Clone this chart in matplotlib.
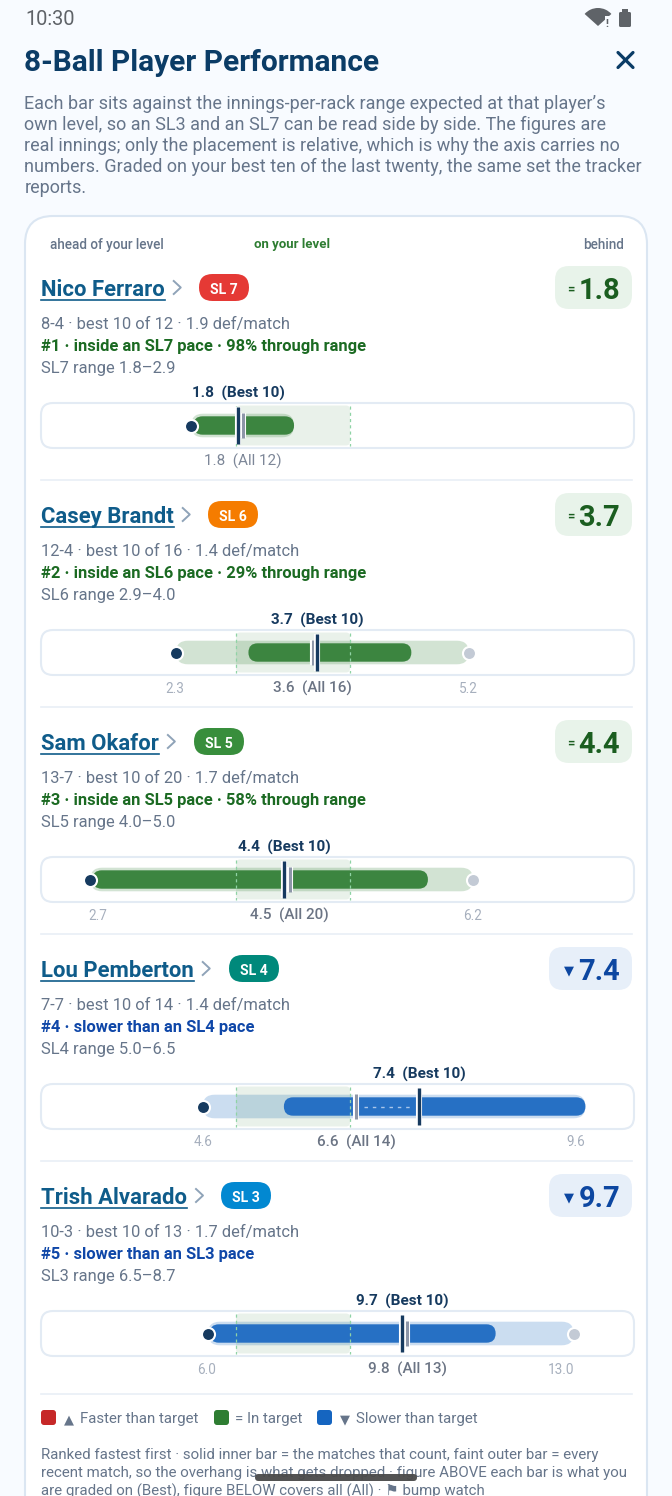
# 8-ball player performance card, redrawn at phone size
import numpy as np
import matplotlib
matplotlib.use('Agg')
import matplotlib.pyplot as plt
from matplotlib.patches import FancyBboxPatch, Wedge, Rectangle

plt.rcParams['font.family'] = ['Roboto', 'DejaVu Sans']

# Data
players = ['Nico Ferraro', 'Casey Brandt', 'Sam Okafor', 'Lou Pemberton', 'Trish Alvarado']
levels = ['SL 7', 'SL 6', 'SL 5', 'SL 4', 'SL 3']
headline = ['1.8', '3.7', '4.4', '7.4', '9.7']
status = ['in', 'in', 'in', 'slow', 'slow']
stats = ['8-4 · best 10 of 12 · 1.9 def/match',
         '12-4 · best 10 of 16 · 1.4 def/match',
         '13-7 · best 10 of 20 · 1.7 def/match',
         '7-7 · best 10 of 14 · 1.4 def/match',
         '10-3 · best 10 of 13 · 1.7 def/match']
rank_text = ['#1 · inside an SL7 pace · 98% through range',
             '#2 · inside an SL6 pace · 29% through range',
             '#3 · inside an SL5 pace · 58% through range',
             '#4 · slower than an SL4 pace',
             '#5 · slower than an SL3 pace']
range_text = ['SL7 range 1.8–2.9', 'SL6 range 2.9–4.0', 'SL5 range 4.0–5.0',
              'SL4 range 5.0–6.5', 'SL3 range 6.5–8.7']

range_lo = [1.8, 2.9, 4.0, 5.0, 6.5]
range_hi = [2.9, 4.0, 5.0, 6.5, 8.7]
# innings value at each end of the track, differs per player
axis_min = [0.06, 0.95, 2.26, 2.65, 3.02]
axis_max = [5.66, 6.87, 7.77, 10.24, 14.16]

outer_lo = [1.40, 2.3, 2.7, 4.6, 6.0]
outer_hi = [2.36, 5.2, 6.2, 9.6, 13.0]
inner_lo = [1.42, 3.02, 2.72, 5.63, 6.03]
inner_hi = [2.36, 4.62, 5.76, 9.6, 11.5]
best_vals = [1.82, 3.68, 4.425, 7.41, 9.7]
all_vals = [1.87, 3.64, 4.47, 6.58, 9.8]
best_labels = ['1.8  (Best 10)', '3.7  (Best 10)', '4.4  (Best 10)', '7.4  (Best 10)', '9.7  (Best 10)']
all_labels = ['1.8  (All 12)', '3.6  (All 16)', '4.5  (All 20)', '6.6  (All 14)', '9.8  (All 13)']
lo_labels = [None, '2.3', '2.7', '4.6', '6.0']
hi_labels = [None, '5.2', '6.2', '9.6', '13.0']
hi_dot = [False, True, True, False, True]

# Layout, page pixels
W, H = 672, 1496
STEP = 227
pill_x = [199, 208, 194, 229, 221]
pill_col = ['#e53935', '#f57c00', '#388e3c', '#00897b', '#0288d1']
chip_x = [555, 555, 555, 549, 549]
lo_shift = [0, -1, 8, 0, -1]
hi_shift = [0, 0, 0, -10, -13]
TRACK_L, TRACK_R = 41, 634
ZONE_L, ZONE_R = 236, 350

INK = '#0b3c66'
GREY = '#66758a'
GREEN = '#1b6a22'
BLUE = '#0f47a8'
pal = {'in': dict(inner='#3c8540', outer=(0.18, 0.49, 0.20, 0.21), chip='#e8f3ea', txt='#1b5e20'),
       'slow': dict(inner='#2670c4', outer=(0.08, 0.40, 0.75, 0.22), chip='#e7eff9', txt='#0d47a1')}

fig = plt.figure(figsize=(W / 100, H / 100), dpi=100, facecolor='#f8fbff')
page = fig.add_axes([0, 0, 1, 1])
page.set_xlim(0, W)
page.set_ylim(H, 0)
page.axis('off')


def rrect(ax, x0, y0, x1, y1, r, **kw):
    # rounded box in page pixels
    p = FancyBboxPatch((x0 + r, y0 + r), x1 - x0 - 2 * r, y1 - y0 - 2 * r,
                       boxstyle='round,pad=%f,rounding_size=%f' % (r, r),
                       mutation_aspect=1, **kw)
    ax.add_patch(p)
    return p


def txt(x, y, s, size, color, weight='normal', ha='left', zorder=5):
    return page.text(x, y, s, fontsize=size * 0.72, color=color, fontweight=weight,
                     ha=ha, va='center_baseline', zorder=zorder)


# status bar and header
txt(25, 17.5, '10:30', 20, '#5f6368')
page.add_patch(Wedge((598, 26), 18, 222, 318, fc='#5f6368', ec='none'))
page.add_patch(Rectangle((605, 16), 5, 13, fc='#f8fbff', ec='none', zorder=2))
txt(607, 23, '!', 11, '#5f6368', weight='bold', ha='center', zorder=3)
rrect(page, 619, 12, 631, 27, 1.5, fc='#5f6368', ec='none')
page.add_patch(Rectangle((622, 9), 6, 4, fc='#5f6368', ec='none'))

txt(24.5, 60, '8-Ball Player Performance', 29.9, '#0b3c66', weight='bold')
page.plot([618, 633], [52.5, 67.5], color=INK, lw=2.3, solid_capstyle='round')
page.plot([618, 633], [67.5, 52.5], color=INK, lw=2.3, solid_capstyle='round')

intro = ["Each bar sits against the innings-per-rack range expected at that player’s",
         "own level, so an SL3 and an SL7 can be read side by side. The figures are",
         "real innings; only the placement is relative, which is why the axis carries no",
         "numbers. Graded on your best ten of the last twenty, the same set the tracker",
         "reports."]
for i, line in enumerate(intro):
    txt(24.5, 101.5 + i * 21, line, 18, GREY)

# card
rrect(page, 25, 216, 647, 1560, 28, fc='white', ec='#dbe6f2', lw=1.5, zorder=1)
txt(50, 243, 'ahead of your level', 13.5, GREY, weight='medium', zorder=5)
txt(292, 243, 'on your level', 13.2, '#2e7d32', weight='bold', ha='center')
txt(624, 243, 'behind', 13.5, GREY, weight='medium', ha='right')

for i, name in enumerate(players):
    dy = i * STEP
    st = status[i]
    c = pal[st]

    # name row
    t = txt(41, 287.5 + dy, name, 22.2, '#0f5c8a', weight='bold')
    fig.canvas.draw_idle()
    ext = t.get_window_extent(fig.canvas.get_renderer())
    page.plot([41, ext.x1], [299.5 + dy, 299.5 + dy], color='#0f5c8a', lw=1.2, zorder=5)
    page.plot([ext.x1 + 9, ext.x1 + 16, ext.x1 + 9], [281 + dy, 287.5 + dy, 294 + dy],
              color='#8fa3b8', lw=1.4, zorder=5)
    rrect(page, pill_x[i], 274 + dy, pill_x[i] + 50, 301 + dy, 13.5, fc=pill_col[i], ec='none', zorder=4)
    txt(pill_x[i] + 25, 288 + dy, levels[i], 14, 'white', weight='bold', ha='center')

    # headline chip
    rrect(page, chip_x[i], 266 + dy, 632, 309 + dy, 14, fc=c['chip'], ec='none', zorder=4)
    txt(620, 288 + dy, headline[i], 29, c['txt'], weight='bold', ha='right')
    txt(chip_x[i] + 16 + (4 if st == 'slow' else 0), 288 + dy, '=' if st == 'in' else '▼',
        13, c['txt'], weight='bold', ha='center')

    # text block
    txt(41, 323 + dy, stats[i], 16.5, GREY)
    txt(41, 345 + dy, rank_text[i], 16.5, GREEN if st == 'in' else BLUE, weight='bold')
    txt(41, 367 + dy, range_text[i], 16.5, GREY)

    # track frame
    top, bot = 403 + dy, 448 + dy
    rrect(page, TRACK_L, top, TRACK_R, bot, 12, fc='white', ec='#e3ebf4', lw=1.5, zorder=2)

    # each track gets its own axes, zone fixed in place, scale bent around it
    lo, hi = range_lo[i], range_hi[i]
    src = [axis_min[i], lo, hi, axis_max[i]]
    dst = [0, (ZONE_L - TRACK_L) / (TRACK_R - TRACK_L), (ZONE_R - TRACK_L) / (TRACK_R - TRACK_L), 1]
    ax = fig.add_axes([TRACK_L / W, 1 - bot / H, (TRACK_R - TRACK_L) / W, (bot - top) / H])
    ax.set_xscale('function', functions=(lambda v, s=src, d=dst: np.interp(v, s, d),
                                         lambda v, s=src, d=dst: np.interp(v, d, s)))
    ax.set_xlim(axis_min[i], axis_max[i])
    ax.set_ylim(22.5, -22.5)
    ax.patch.set_alpha(0)
    ax.axis('off')

    def px(v):
        return page.transData.inverted().transform(ax.transData.transform((v, 0)))[0]

    mid = (top + bot) / 2

    def bar(v0, v1, half, **kw):
        x0, x1 = px(v0), px(v1)
        r = min(half, (x1 - x0) / 2)
        rrect(ax, x0, mid - half, x1, mid + half, r, transform=page.transData, clip_on=False, **kw)

    bar(outer_lo[i], outer_hi[i], 11.8, fc=c['outer'], ec='none', zorder=1)
    # target zone, faint fill with dashed edges
    z0, z1 = px(lo), px(hi)
    rrect(ax, z0, mid - 20, z1, mid + 20, 4, transform=page.transData, clip_on=False,
          fc=(0.18, 0.49, 0.20, 0.10), ec='none', zorder=2)
    ax.plot([lo, lo], [-20, 20], color='#8fd3a5', lw=0.9, ls=(0, (2.5, 2.5)), zorder=5)
    ax.plot([hi, hi], [-20, 20], color='#8fd3a5', lw=0.9, ls=(0, (2.5, 2.5)), zorder=5)
    bar(inner_lo[i], inner_hi[i], 9.2, fc=c['inner'], ec='none', zorder=3)

    # end dots
    ax.scatter([outer_lo[i]], [0], s=88, c='#163a5f', edgecolors='white', linewidths=1.5, zorder=8)
    if hi_dot[i]:
        ax.scatter([outer_hi[i]], [0], s=88, c='#c3cad5', edgecolors='white', linewidths=1.5, zorder=8)

    # gap between the two figures on a slower player
    if st == 'slow' and best_vals[i] - all_vals[i] > 0.3:
        ax.plot([all_vals[i] + 0.1, best_vals[i] - 0.1], [0, 0], color='#a9c6ea', lw=1,
                ls=(0, (2.5, 3.5)), zorder=6)

    # markers
    ax.plot([all_vals[i]] * 2, [-12.5, 12.5], color='white', lw=4.4, zorder=9, solid_capstyle='butt')
    ax.plot([all_vals[i]] * 2, [-12.5, 12.5], color='#8d96a8', lw=2.2, zorder=10, solid_capstyle='butt')
    ax.plot([best_vals[i]] * 2, [-18.5, 18.5], color='white', lw=4.4, zorder=11, solid_capstyle='butt')
    ax.plot([best_vals[i]] * 2, [-18.5, 18.5], color='#163a5f', lw=2.4, zorder=12, solid_capstyle='butt')

    # figures above and below
    txt(px(best_vals[i]), top - 11, best_labels[i], 15.2, '#163a5f', weight='bold', ha='center')
    if i == 0:
        txt(px(all_vals[i]), bot + 12, all_labels[i], 15.2, '#7d8798', ha='center')
    else:
        txt(px(all_vals[i]), bot + 12, all_labels[i], 15.2, '#6b7484', weight='medium', ha='center')
    if lo_labels[i]:
        txt(px(outer_lo[i]) + lo_shift[i], bot + 12, lo_labels[i], 13.5, '#a6afbd', ha='center')
        txt(px(outer_hi[i]) + hi_shift[i], bot + 12, hi_labels[i], 13.5, '#a6afbd', ha='center')

    # separator
    sep = 480 + dy if i < 4 else 1394
    page.plot([41, 632], [sep, sep], color='#e9eff6', lw=1.2, zorder=3)

# legend
for x0, col in zip([41, 214, 317], ['#c62828', '#2e7d32', '#1565c0']):
    rrect(page, x0, 1410, x0 + 15, 1425, 3, fc=col, ec='none', zorder=4)
txt(64, 1418, '▲', 13, GREY)
txt(80, 1418, 'Faster than target', 15, GREY)
txt(235, 1418, '= In target', 15, GREY)
txt(340, 1418, '▼', 13, GREY)
txt(356, 1418, 'Slower than target', 15, GREY)

# footnote
notes = ['Ranked fastest first · solid inner bar = the matches that count, faint outer bar = every',
         'recent match, so the overhang is what gets dropped · figure ABOVE each bar is what you',
         'are graded on (Best), figure BELOW covers all (All) · ⚑ bump watch']
for i, line in enumerate(notes):
    txt(41, 1454 + i * 18, line, 15, GREY)

# gesture pill over everything
nav = fig.add_axes([0, 0, 1, 1])
nav.set_xlim(0, W)
nav.set_ylim(H, 0)
nav.axis('off')
rrect(nav, 255, 1474, 417, 1481, 3.5, fc='#4a4a4a', ec='none', alpha=0.95)

fig.savefig('out.png', dpi=100, facecolor=fig.get_facecolor())
